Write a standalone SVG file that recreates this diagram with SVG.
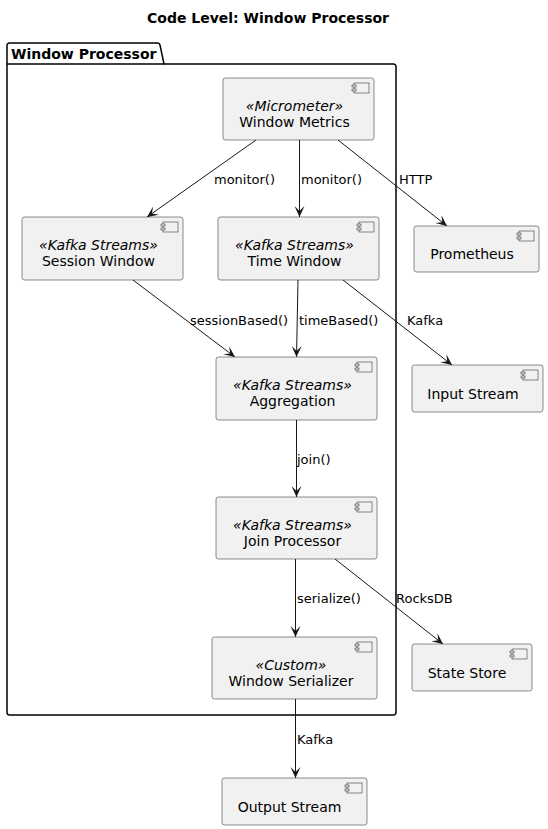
<svg xmlns="http://www.w3.org/2000/svg" width="548" height="829" viewBox="0 0 548 829">
<style>
  .box { fill: #F1F1F1; stroke: #181818; stroke-width: 0.5; }
  .ico { fill: #F1F1F1; stroke: #181818; stroke-width: 0.5; }
  .nm { font-family: "DejaVu Sans", sans-serif; font-size: 14px; fill: #000; text-anchor: middle; }
  .st { font-family: "DejaVu Sans", sans-serif; font-size: 14px; font-style: italic; fill: #000; text-anchor: middle; }
  .lbl { font-family: "DejaVu Sans", sans-serif; font-size: 13px; fill: #000; }
  .edge { fill: none; stroke: #181818; stroke-width: 1; marker-end: url(#arr); }
  .title { font-family: "DejaVu Sans", sans-serif; font-size: 14px; font-weight: bold; fill: #000; text-anchor: middle; }
  .pkg { fill: none; stroke: #000; stroke-width: 1.5; }
</style>
<defs>
  <marker id="arr" viewBox="-12 -6 13 12" refX="0" refY="0" markerWidth="13" markerHeight="12" markerUnits="userSpaceOnUse" orient="auto">
    <path d="M0,0 L-11,-5 L-6,0 L-11,5 Z" fill="#181818"/>
  </marker>
  <g id="icon">
    <rect class="ico" x="-20" y="5" width="15" height="10"/>
    <rect class="ico" x="-22" y="7" width="4" height="2"/>
    <rect class="ico" x="-22" y="11" width="4" height="2"/>
  </g>
</defs>
<rect width="548" height="829" fill="#FFFFFF"/>
<text class="title" x="268" y="23">Code Level: Window Processor</text>

<g id="pkg-window-processor">
  <path class="pkg" d="M7,64 L7,45.5 A2.5,2.5 0 0 1 9.5,43 L157.5,43 A2.5,2.5 0 0 1 160,45 L164,64 L393.5,64 A2.5,2.5 0 0 1 396,66.5 L396,712.5 A2.5,2.5 0 0 1 393.5,715 L9.5,715 A2.5,2.5 0 0 1 7,712.5 Z"/>
  <line class="pkg" x1="7" y1="64" x2="164" y2="64"/>
  <text class="title" x="11" y="59" style="text-anchor:start">Window Processor</text>
</g>

<g id="connectors">
  <line class="edge" x1="256" y1="140" x2="147" y2="217"/>
  <text class="lbl" x="214" y="184">monitor()</text>
  <line class="edge" x1="299.5" y1="140" x2="299.5" y2="217"/>
  <text class="lbl" x="301" y="184">monitor()</text>
  <line class="edge" x1="338" y1="140" x2="447" y2="226"/>
  <text class="lbl" x="399" y="184">HTTP</text>

  <line class="edge" x1="133" y1="280" x2="235" y2="357"/>
  <text class="lbl" x="190" y="325">sessionBased()</text>
  <line class="edge" x1="298" y1="280" x2="296.5" y2="357"/>
  <text class="lbl" x="299" y="325">timeBased()</text>
  <line class="edge" x1="343" y1="280" x2="452" y2="365"/>
  <text class="lbl" x="407" y="325">Kafka</text>

  <line class="edge" x1="296.5" y1="420" x2="296.5" y2="497"/>
  <text class="lbl" x="297" y="464">join()</text>

  <line class="edge" x1="295.5" y1="559" x2="295.5" y2="637"/>
  <text class="lbl" x="297" y="603">serialize()</text>
  <line class="edge" x1="335" y1="559" x2="443" y2="644"/>
  <text class="lbl" x="396" y="603">RocksDB</text>

  <line class="edge" x1="295.5" y1="699" x2="295.5" y2="778"/>
  <text class="lbl" x="297" y="744">Kafka</text>
</g>

<g id="window-metrics">
  <rect class="box" x="223" y="78" width="151" height="62" rx="2.5"/>
  <use href="#icon" x="374" y="78"/>
  <text class="st" x="294.5" y="111">«Micrometer»</text>
  <text class="nm" x="294.5" y="127">Window Metrics</text>
</g>
<g id="session-window">
  <rect class="box" x="22" y="217" width="161" height="63" rx="2.5"/>
  <use href="#icon" x="183" y="217"/>
  <text class="st" x="98.5" y="250">«Kafka Streams»</text>
  <text class="nm" x="98.5" y="266">Session Window</text>
</g>
<g id="time-window">
  <rect class="box" x="218" y="217" width="161" height="63" rx="2.5"/>
  <use href="#icon" x="379" y="217"/>
  <text class="st" x="294.5" y="250">«Kafka Streams»</text>
  <text class="nm" x="294.5" y="266">Time Window</text>
</g>
<g id="aggregation">
  <rect class="box" x="216" y="357" width="161" height="63" rx="2.5"/>
  <use href="#icon" x="377" y="357"/>
  <text class="st" x="292.5" y="390">«Kafka Streams»</text>
  <text class="nm" x="292.5" y="406">Aggregation</text>
</g>
<g id="join-processor">
  <rect class="box" x="216" y="497" width="161" height="62" rx="2.5"/>
  <use href="#icon" x="377" y="497"/>
  <text class="st" x="292.5" y="530">«Kafka Streams»</text>
  <text class="nm" x="292.5" y="546">Join Processor</text>
</g>
<g id="window-serializer">
  <rect class="box" x="212" y="637" width="165" height="62" rx="2.5"/>
  <use href="#icon" x="377" y="637"/>
  <text class="st" x="291" y="670">«Custom»</text>
  <text class="nm" x="291" y="686">Window Serializer</text>
</g>
<g id="output-stream">
  <rect class="box" x="222" y="778" width="145" height="47" rx="2.5"/>
  <use href="#icon" x="367" y="778"/>
  <text class="nm" x="289.5" y="812">Output Stream</text>
</g>
<g id="prometheus">
  <rect class="box" x="414" y="226" width="125" height="46" rx="2.5"/>
  <use href="#icon" x="539" y="226"/>
  <text class="nm" x="472" y="259">Prometheus</text>
</g>
<g id="input-stream">
  <rect class="box" x="412" y="365" width="131" height="47" rx="2.5"/>
  <use href="#icon" x="543" y="365"/>
  <text class="nm" x="473" y="399">Input Stream</text>
</g>
<g id="state-store">
  <rect class="box" x="412" y="644" width="120" height="47" rx="2.5"/>
  <use href="#icon" x="532" y="644"/>
  <text class="nm" x="467" y="678">State Store</text>
</g>
</svg>
